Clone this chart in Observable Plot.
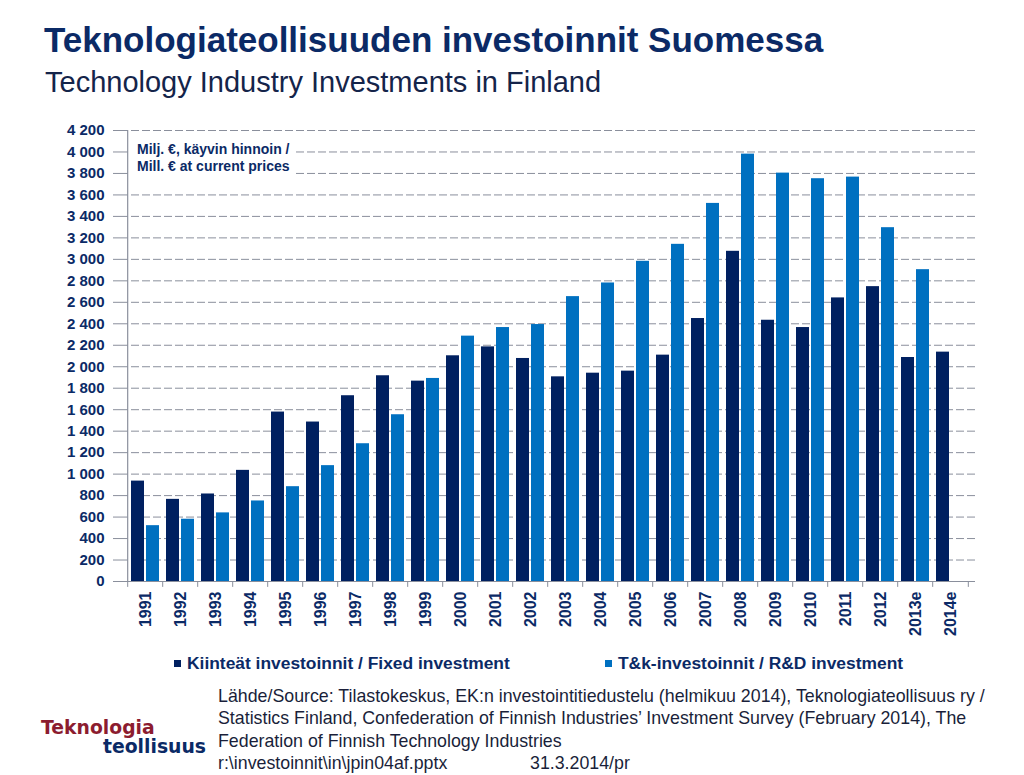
<!DOCTYPE html>
<html>
<head>
<meta charset="utf-8">
<script src="https://cdn.jsdelivr.net/npm/d3@7"></script>
<script src="https://cdn.jsdelivr.net/npm/@observablehq/plot@0.6"></script>
<style>
  html, body { margin: 0; padding: 0; background: #fff; }
  body { width: 1024px; height: 775px; position: relative; overflow: hidden; font-family: "Liberation Sans", Arial, sans-serif; }
  .abs { position: absolute; white-space: nowrap; }
  #title { left: 44px; top: 22px; font-size: 35px; line-height: 35px; font-weight: bold; color: #0b2a66; }
  #subtitle { left: 45px; top: 67px; font-size: 29px; line-height: 30px; color: #14244a; }
  #note { left: 130px; top: 138px; padding: 3px 6px 3px 7px; background: #fff; font-size: 14px; line-height: 17px; font-weight: bold; color: #0b2a66; }
  .leg { top: 655px; font-size: 17.4px; line-height: 17px; font-weight: bold; color: #0b2a66; }
  .sw { display: inline-block; width: 7px; height: 7px; margin-right: 6px; vertical-align: 2px; }
  .foot { left: 218px; font-size: 17.8px; line-height: 22.3px; color: #1a1f3a; }
  .logo { font-family: "DejaVu Sans", sans-serif; font-weight: bold; font-size: 18.8px; line-height: 18.5px; }
</style>
</head>
<body>
<div id="title" class="abs">Teknologiateollisuuden investoinnit Suomessa</div>
<div id="subtitle" class="abs">Technology Industry Investments in Finland</div>
<div id="chart" class="abs" style="left:0;top:120px;"></div>
<div id="note" class="abs">Milj. €, käyvin hinnoin /<br>Mill. € at current prices</div>
<div id="leg1" class="abs leg" style="left:174px;"><span class="sw" style="background:#002060"></span>Kiinteät investoinnit / Fixed investment</div>
<div id="leg2" class="abs leg" style="left:605px;"><span class="sw" style="background:#0070c0"></span>T&amp;k-investoinnit / R&amp;D investment</div>
<div class="abs foot" style="top:685px;">Lähde/Source: Tilastokeskus, EK:n investointitiedustelu (helmikuu 2014), Teknologiateollisuus ry /</div>
<div class="abs foot" style="top:707.3px;">Statistics Finland, Confederation of Finnish Industries’ Investment Survey (February 2014), The</div>
<div class="abs foot" style="top:729.6px;">Federation of Finnish Technology Industries</div>
<div class="abs foot" style="top:751.9px;">r:\investoinnit\in\jpin04af.pptx</div>
<div class="abs foot" style="top:751.9px;left:530px;">31.3.2014/pr</div>
<div class="abs logo" style="left:41px;top:719px;color:#8c1c2f;">Teknologia</div>
<div class="abs logo" style="left:103px;top:737.5px;color:#0b2a66;">teollisuus</div>
<script>
const years = ["1991","1992","1993","1994","1995","1996","1997","1998","1999","2000","2001","2002","2003","2004","2005","2006","2007","2008","2009","2010","2011","2012","2013e","2014e"];
const fixedInvestment = [935, 765, 815, 1035, 1578, 1485, 1730, 1916, 1866, 2102, 2185, 2077, 1906, 1940, 1959, 2108, 2449, 3075, 2433, 2365, 2641, 2746, 2086, 2136];
const rdInvestment = [520, 580, 639, 750, 883, 1079, 1283, 1553, 1891, 2285, 2365, 2393, 2653, 2780, 2982, 3140, 3521, 3980, 3803, 3751, 3766, 3295, 2904, null];
const yTicks = d3.range(0, 4201, 200);

const fixedRows = years.map((year, i) => ({year, value: fixedInvestment[i]}));
const rdRows = years.map((year, i) => ({year, value: rdInvestment[i]})).filter(d => d.value != null);

const width = 1024, marginLeft = 120, marginRight = 49;
const paddingInner = 0.2, paddingOuter = 0.1;
const step = (width - marginLeft - marginRight) / (years.length - paddingInner + 2 * paddingOuter);
const bandwidth = step * (1 - paddingInner);
const inset = bandwidth / 2 + 0.75;

const navy = "#0b2a66";
const grey = "#8a8f9c";
const fmt = d3.formatLocale({decimal: ",", thousands: " ", grouping: [3], currency: ["", ""]}).format(",");

const chart = Plot.plot({
  width,
  height: 531,
  marginTop: 10,
  marginBottom: 70,
  marginLeft,
  marginRight,
  style: {fontFamily: "'Liberation Sans', Arial, sans-serif", fontWeight: "bold", overflow: "visible", background: "transparent"},
  x: {type: "band", domain: years, paddingInner, paddingOuter, label: null},
  y: {domain: [0, 4200], label: null},
  marks: [
    Plot.gridY(yTicks.filter(d => d > 0), {stroke: grey, strokeOpacity: 1, strokeDasharray: "8,3", strokeWidth: 1}),
    Plot.barY(fixedRows, {x: "year", y: "value", fill: "#002060", insetRight: inset}),
    Plot.barY(rdRows, {x: "year", y: "value", fill: "#0070c0", insetLeft: inset}),
    Plot.ruleY([0], {stroke: grey, strokeWidth: 1.2}),
    Plot.ruleX([years[0]], {x: d => d, y1: 0, y2: 4200, dx: -step / 2, stroke: grey, strokeWidth: 1.2}),
    Plot.ruleX(years, {x: d => d, y1: 0, y2: -55, dx: -step / 2, stroke: grey}),
    Plot.ruleX([years[years.length - 1]], {x: d => d, y1: 0, y2: -55, dx: step / 2, stroke: grey}),
    Plot.axisY({ticks: yTicks, tickFormat: fmt, tickSize: 7, tickPadding: 9, fontSize: 15, stroke: grey, fill: navy, label: null}),
    Plot.axisX({tickRotate: -90, tickSize: 0, tickPadding: 10, fontSize: 16, fill: navy, label: null})
  ]
});
document.getElementById("chart").appendChild(chart);
</script>
</body>
</html>
